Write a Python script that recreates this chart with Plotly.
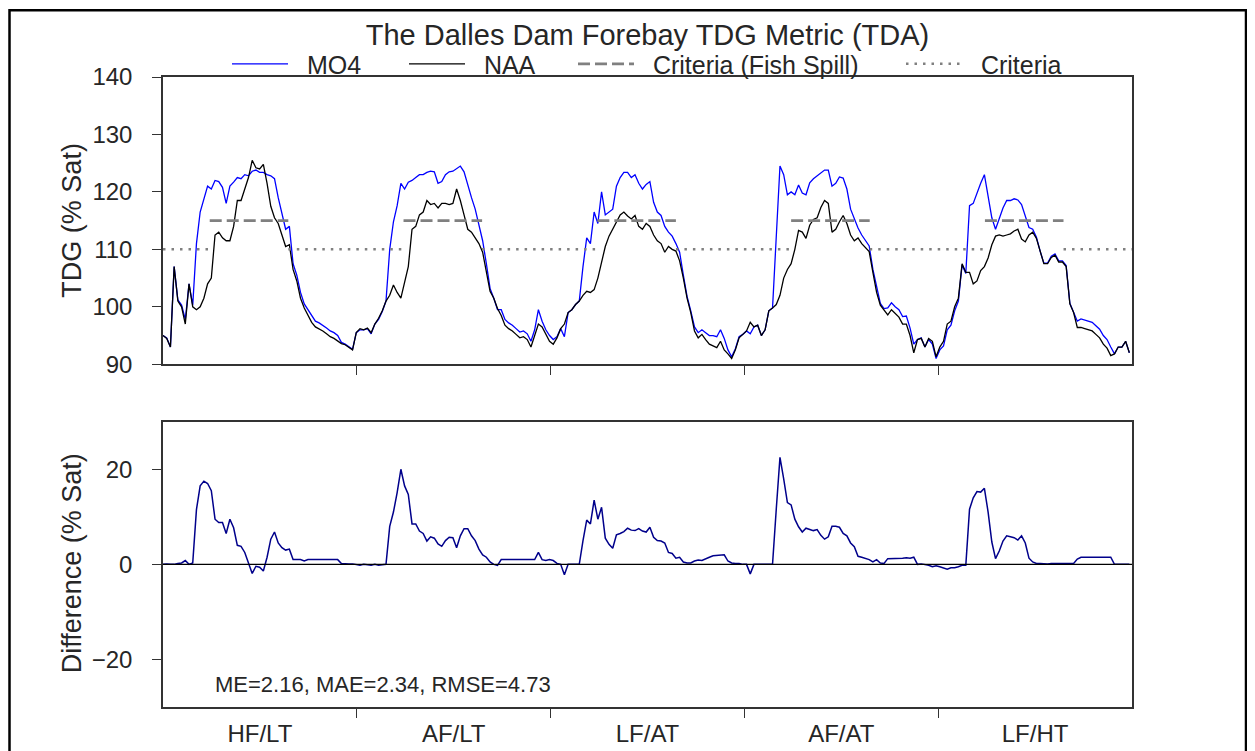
import plotly.graph_objects as go

# ---------------- data ----------------
title_text = "The Dalles Dam Forebay TDG Metric (TDA)"
year_labels = ["HF/LT", "AF/LT", "LF/AT", "AF/AT", "LF/HT"]
days_per_year = 365
step_days = 7  # one reading per week

naa = [
    95.0, 94.5, 93.0, 107.0, 101.0, 100.0, 97.0, 104.0, 100.0, 99.5,
    100.0, 101.5, 104.0, 105.0, 112.5, 113.0, 112.0, 111.5, 111.5, 114.0,
    118.5, 118.5, 120.5, 122.5, 125.5, 124.2, 124.0, 124.8, 121.5, 117.5,
    115.5, 114.5, 112.5, 110.5, 110.8, 106.5, 104.5, 101.5, 99.8, 98.5,
    97.3, 96.5, 96.2, 95.8, 95.3, 94.8, 94.5, 94.0, 93.6, 93.4,
    93.0, 92.5, 95.5, 96.2, 96.0, 96.3, 95.5, 97.0, 98.0, 99.3,
    101.0, 102.0, 103.8, 102.5, 101.5, 104.0, 107.0, 113.5, 114.0, 116.0,
    116.5, 118.5, 117.8, 118.0, 117.2, 118.0, 118.0, 117.8, 118.0, 120.5,
    118.5, 116.0, 113.5, 113.0, 112.0, 111.0, 109.5, 106.0, 102.7, 101.5,
    99.7, 98.5, 96.8, 96.2, 95.8, 95.2, 94.6, 94.8, 94.3, 93.0,
    95.0, 97.0, 96.5, 95.2, 94.0, 93.5, 94.6, 96.2, 97.0, 99.0,
    99.5, 100.4, 101.0, 102.0, 102.7, 102.5, 103.0, 105.0, 108.0, 110.5,
    112.3, 113.6, 114.8, 116.0, 116.5, 115.8, 115.3, 115.9, 114.0, 113.5,
    114.5, 114.0, 112.5, 111.5, 111.0, 109.5, 110.5, 110.0, 109.7, 108.0,
    105.0, 101.5, 99.0, 95.8, 94.6, 95.2, 94.3, 93.5, 93.2, 92.9,
    94.0, 92.5, 91.8, 91.0, 92.5, 94.6, 95.2, 95.8, 97.3, 96.5,
    96.8, 95.0, 96.0, 99.3, 99.8, 100.4, 102.0, 105.0, 106.5, 107.5,
    110.0, 113.3, 113.0, 111.9, 114.2, 115.2, 115.5, 117.3, 118.5, 118.0,
    113.0, 113.5, 114.8, 115.9, 114.5, 112.5, 111.5, 112.0, 111.0, 110.3,
    109.6, 106.0, 102.5, 100.3, 99.5, 98.6, 99.5, 98.8, 98.2, 97.0,
    97.0, 95.0, 92.0, 94.3, 94.5, 93.0, 94.5, 94.0, 91.3, 93.0,
    94.0, 97.0, 97.5, 100.0, 101.5, 107.5, 106.0, 106.0, 104.0, 104.5,
    106.3, 107.0, 108.5, 110.8, 112.3, 112.5, 112.3, 112.5, 112.7, 113.2,
    113.5, 111.8, 111.3, 112.5, 113.0, 111.9, 109.5, 107.5, 107.5, 108.6,
    109.0, 107.8, 107.8, 107.0, 100.5, 99.0, 96.4, 96.4, 96.2, 96.0,
    95.8, 95.2, 94.6, 93.5, 92.8, 91.5, 91.8, 93.0, 93.0, 94.0,
    92.0,
]

mo4 = [
    95.0, 94.6, 93.0, 107.0, 101.2, 100.3, 97.8, 104.0, 100.3, 111.0,
    116.5, 119.0, 121.0, 120.5, 122.0, 121.8, 120.8, 118.0, 121.0, 121.7,
    122.5, 122.3, 123.0, 122.8, 123.6, 123.8, 123.4, 123.4, 123.0, 122.8,
    122.3, 119.0, 116.0, 113.5, 114.0, 107.5, 105.5, 102.5, 100.5, 99.5,
    98.3, 97.5, 97.2, 96.8, 96.3, 95.8, 95.5, 95.0, 93.8, 93.5,
    93.1, 92.6, 95.5, 96.0, 96.0, 96.2, 95.3, 97.0, 97.8, 99.2,
    101.0, 110.0, 114.8, 117.6, 121.5, 120.5, 121.7, 122.0, 122.5, 123.0,
    123.0, 123.4, 123.6, 123.5, 121.5, 121.8, 123.0, 123.5, 123.6, 124.0,
    124.5, 123.5, 121.0, 119.0, 117.0, 114.2, 111.5, 107.5, 103.2, 101.5,
    99.5, 99.5, 97.8, 97.2, 96.8, 96.2, 95.6, 95.8, 95.3, 94.0,
    96.0, 99.5, 97.5, 96.0, 95.0, 94.3, 94.8, 96.2, 94.8, 99.0,
    99.5, 100.4, 101.0, 107.0, 112.0, 111.0, 116.5, 114.5, 120.0, 116.0,
    116.5, 117.0, 121.0, 122.5, 123.4, 123.4, 122.5, 123.0, 121.5, 120.5,
    121.3, 121.8, 118.2, 116.5, 115.9, 114.0, 113.0, 112.3, 111.0, 109.5,
    105.5, 101.8, 99.3, 96.5, 95.5, 96.0, 95.5, 95.0, 95.0, 94.8,
    96.0, 94.5, 92.5, 91.3, 92.7, 94.8, 95.2, 95.8, 95.3, 96.5,
    96.8, 95.0, 96.0, 99.3, 99.8, 112.0, 124.5, 123.0, 119.5, 120.0,
    119.5, 121.2, 119.8, 119.5, 121.6, 122.3, 122.8, 123.4, 123.8, 123.8,
    121.0, 121.5, 122.6, 122.4, 120.5, 117.0, 115.2, 113.7, 112.5, 111.5,
    110.6, 106.5, 103.5, 100.6, 99.7, 99.8, 100.7, 100.0, 99.5, 98.3,
    98.4, 96.3, 93.5, 94.3, 94.6, 93.0, 94.3, 93.5, 91.0, 92.5,
    93.2, 96.0, 96.8, 99.3, 101.0, 107.3, 105.8, 117.6, 118.0, 119.8,
    121.5, 123.0, 119.5, 115.5, 113.5, 115.3, 117.2, 118.5, 118.5, 118.8,
    118.6, 117.8, 115.8, 113.8, 113.5, 112.1, 109.7, 107.6, 107.6, 108.8,
    109.2, 108.0, 108.0, 107.2, 100.6, 99.2, 97.5, 97.9, 97.7, 97.5,
    97.3, 96.7, 96.1, 95.0, 94.3, 93.0, 91.8, 93.0, 93.0, 94.0,
    92.0,
]

criteria_fish_spill = 115   # % Sat, during fish spill season
criteria_base = 110         # % Sat, rest of the year
spill_start_doy = 88
spill_end_doy = 236

me_val, mae_val, rmse_val = 2.16, 2.34, 4.73

# ---------------- derived ----------------
n_years = len(year_labels)
day = [i * step_days for i in range(len(naa))]
diff = [m - n for m, n in zip(mo4, naa)]
x_end = n_years * days_per_year

fish_x, fish_y = [], []
base_x, base_y = [], []
prev = 0
for k in range(n_years):
    s = k * days_per_year + spill_start_doy
    e = k * days_per_year + spill_end_doy
    fish_x += [s, e, None]
    fish_y += [criteria_fish_spill, criteria_fish_spill, None]
    base_x += [prev, s, None]
    base_y += [criteria_base, criteria_base, None]
    prev = e
base_x += [prev, x_end]
base_y += [criteria_base, criteria_base]

year_bounds = [k * days_per_year for k in range(1, n_years)]
year_centers = [(k + 0.5) * days_per_year for k in range(n_years)]

# ---------------- figure ----------------
FONT = "Liberation Sans, Arial, sans-serif"
TXT = "#262626"
AX = "#333333"
NB = "\u00a0\u00a0"

# page geometry (the page body adds an 8 px offset)
W, H = 1255, 751
OFF = 8
PL, PR, PT, PB = 163, 1132, 77, 713          # plot area in page pixels
ml, mr, mt, mb = PL - OFF, W + OFF - PR, PT - OFF, H + OFF - PB
pw, ph = PR - PL, PB - PT

def px_x(p):   # page x -> paper x
    return (p - PL) / pw

def px_y(p):   # page y -> paper y
    return (PB - p) / ph

top_dom = [px_y(367), 1.0]
bot_dom = [0.0, px_y(425)]

fig = go.Figure()
fig.add_trace(go.Scatter(x=day, y=mo4, mode="lines", name=NB + "MO4",
                         line=dict(color="#0000ff", width=1.3),
                         xaxis="x", yaxis="y", legend="legend"))
fig.add_trace(go.Scatter(x=day, y=naa, mode="lines", name=NB + "NAA",
                         line=dict(color="#000000", width=1.3),
                         xaxis="x", yaxis="y", legend="legend2"))
fig.add_trace(go.Scatter(x=fish_x, y=fish_y, mode="lines", name=NB + "Criteria (Fish Spill)",
                         line=dict(color="#808080", width=2.8, dash="12px,5px"),
                         xaxis="x", yaxis="y", legend="legend3"))
fig.add_trace(go.Scatter(x=base_x, y=base_y, mode="lines", name=NB + "Criteria",
                         line=dict(color="#808080", width=2.5, dash="2.5px,6px"),
                         xaxis="x", yaxis="y", legend="legend4"))
fig.add_trace(go.Scatter(x=day, y=diff, mode="lines", name="Difference",
                         line=dict(color="#00008b", width=1.5),
                         xaxis="x2", yaxis="y2", showlegend=False))

axis_common = dict(showline=True, mirror=True, linecolor=AX, linewidth=1.5,
                   showgrid=False, zeroline=False, ticks="outside", ticklen=9,
                   tickwidth=1.3, tickcolor=AX,
                   tickfont=dict(family=FONT, size=24, color=TXT))

def leg(line_start):
    return dict(x=px_x(line_start - 6), y=px_y(64),
                xanchor="left", yanchor="middle", orientation="h",
                bgcolor="rgba(0,0,0,0)", itemwidth=56,
                font=dict(family=FONT, size=25, color=TXT))

fig.update_layout(
    width=W, height=H,
    margin=dict(l=ml, r=mr, t=mt, b=mb),
    paper_bgcolor="white", plot_bgcolor="white",
    font=dict(family=FONT, color=TXT),
    title=dict(text=title_text, x=0.5, xref="paper", xanchor="center",
               y=1 - (35 - OFF) / H, yanchor="middle",
               font=dict(family=FONT, size=29, color=TXT)),
    xaxis=dict(axis_common, domain=[0, 1], anchor="y", range=[0, x_end],
               tickmode="array", tickvals=year_bounds, showticklabels=False),
    yaxis=dict(axis_common, domain=top_dom, anchor="x", range=[90, 140],
               tickmode="array", tickvals=[90, 100, 110, 120, 130, 140],
               ticklabelstandoff=15),
    xaxis2=dict(axis_common, domain=[0, 1], anchor="y2", range=[0, x_end],
                tickmode="array", tickvals=year_centers, ticktext=year_labels,
                ticks="", ticklen=0, ticklabelstandoff=4,
                minor=dict(tickmode="array", tickvals=year_bounds, ticks="outside",
                           ticklen=9, tickwidth=1.3, tickcolor=AX)),
    yaxis2=dict(axis_common, domain=bot_dom, anchor="x2", range=[-30, 30],
                tickmode="array", tickvals=[-20, 0, 20],
                ticktext=["\u221220", "0", "20"], ticklabelstandoff=15),
    legend=leg(233),
    legend2=leg(410),
    legend3=leg(579),
    legend4=leg(907),
    shapes=[
        dict(type="line", xref="x2 domain", yref="y2", x0=0, x1=1, y0=0, y1=0,
             line=dict(color="black", width=1.2), layer="above"),
        dict(type="rect", xref="paper", yref="paper",
             x0=px_x(9.5), x1=px_x(1246), y0=px_y(790), y1=px_y(9.5),
             line=dict(color="black", width=2.5), fillcolor="rgba(0,0,0,0)"),
    ],
    annotations=[
        dict(text="TDG (% Sat)", xref="paper", yref="paper",
             x=px_x(72), y=px_y(222), textangle=-90, showarrow=False,
             xanchor="center", yanchor="middle",
             font=dict(family=FONT, size=27, color=TXT)),
        dict(text="Difference (% Sat)", xref="paper", yref="paper",
             x=px_x(72), y=px_y(568), textangle=-90, showarrow=False,
             xanchor="center", yanchor="middle",
             font=dict(family=FONT, size=27, color=TXT)),
        dict(text=f"ME={me_val:.2f}, MAE={mae_val:.2f}, RMSE={rmse_val:.2f}",
             xref="paper", yref="paper", x=px_x(213), y=px_y(690),
             xanchor="left", yanchor="middle", showarrow=False,
             font=dict(family=FONT, size=22, color=TXT)),
    ],
)

fig.write_html("out.html")
